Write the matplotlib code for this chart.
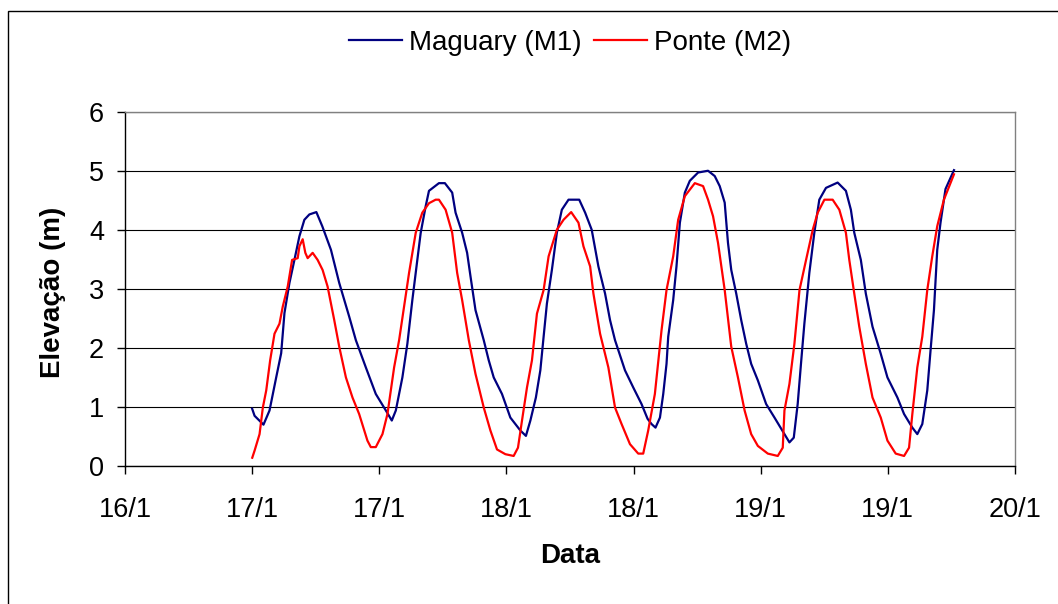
import matplotlib
matplotlib.use('Agg')
import matplotlib.pyplot as plt
import matplotlib.dates as mdates
import matplotlib.ticker as mticker
from matplotlib.patches import Rectangle
import pandas as pd

plt.rcParams['font.family'] = ['Liberation Sans', 'DejaVu Sans']

# hours after 17/1 00:00 and water level (m)
start = pd.Timestamp('2000-01-17 00:00')

m1_hours = [0.0, 0.23, 1.07, 1.64, 2.27, 2.74, 3.05, 3.52, 3.99, 4.46, 4.93, 5.40, 6.06, 6.62,
            7.44, 8.22, 9.16, 9.79, 10.73, 11.67, 12.62, 13.18, 13.56, 14.18, 14.65, 15.12,
            15.59, 15.91, 16.38, 16.69, 17.63, 18.19, 18.88, 19.20, 19.82, 20.29, 20.61, 21.08,
            21.86, 22.33, 22.80, 23.58, 24.37, 25.32, 25.84, 26.26, 26.78, 27.20, 27.51, 27.82,
            28.29, 28.76, 29.23, 29.86, 30.87, 31.43, 32.05, 32.68, 33.31, 33.78, 34.25, 35.19,
            35.97, 36.75, 37.32, 37.70, 38.07, 38.49, 38.80, 39.11, 39.27, 39.74, 40.05, 40.37,
            40.84, 41.31, 42.09, 43.03, 43.66, 44.13, 44.60, 44.91, 45.22, 45.69, 46.16, 46.63,
            47.10, 47.73, 48.51, 49.30, 50.24, 50.71, 51.12, 51.49, 51.80, 52.12, 52.59, 53.06,
            53.53, 54.16, 55.26, 56.04, 56.51, 56.83, 57.45, 57.92, 58.55, 59.33, 59.96, 60.90,
            61.53, 62.31, 62.78, 63.25, 63.72, 64.03, 64.35, 64.66, 64.97, 65.44, 66.24]
m1_level = [0.97, 0.85, 0.70, 0.94, 1.50, 1.91, 2.59, 3.10, 3.49, 3.89, 4.17, 4.26, 4.30, 4.06,
            3.66, 3.10, 2.53, 2.13, 1.67, 1.22, 0.94, 0.77, 0.94, 1.50, 2.07, 2.81,
            3.49, 3.95, 4.40, 4.66, 4.79, 4.79, 4.63, 4.29, 3.95, 3.61, 3.21, 2.64,
            2.13, 1.79, 1.50, 1.22, 0.82, 0.60, 0.51, 0.77, 1.16, 1.62, 2.19, 2.75,
            3.32, 3.95, 4.34, 4.51, 4.51, 4.29, 4.00, 3.38, 2.92, 2.47, 2.13, 1.62,
            1.33, 1.05, 0.80, 0.71, 0.65, 0.82, 1.22, 1.73, 2.19, 2.81, 3.38, 4.12,
            4.63, 4.83, 4.97, 5.00, 4.91, 4.74, 4.46, 3.78, 3.32, 2.92, 2.47, 2.07,
            1.73, 1.45, 1.05, 0.82, 0.54, 0.40, 0.48, 1.05, 1.73, 2.41, 3.27, 3.95,
            4.51, 4.71, 4.80, 4.66, 4.34, 3.95, 3.49, 2.92, 2.36, 1.90, 1.50, 1.16,
            0.88, 0.65, 0.54, 0.71, 1.28, 1.96, 2.64, 3.66, 4.12, 4.69, 5.01]

m2_hours = [0.01, 0.23, 0.70, 1.01, 1.33, 1.70, 2.11, 2.58, 2.89, 3.36, 3.77, 4.30, 4.46, 4.77,
            5.02, 5.24, 5.71, 6.18, 6.65, 7.12, 7.75, 8.22, 8.85, 9.47, 10.10, 10.88, 11.20,
            11.67, 12.30, 12.77, 13.40, 13.87, 14.34, 14.81, 15.44, 16.06, 16.69, 17.32, 17.63,
            18.26, 18.88, 19.35, 19.82, 20.45, 21.08, 21.86, 22.49, 23.11, 23.90, 24.68, 25.09,
            25.47, 25.94, 26.41, 26.88, 27.51, 27.98, 28.76, 29.39, 30.11, 30.80, 31.27, 31.90,
            32.21, 32.84, 33.62, 34.25, 34.87, 35.66, 36.44, 36.91, 37.38, 38.01, 38.64, 39.11,
            39.74, 40.21, 40.84, 41.78, 42.56, 43.03, 43.50, 43.97, 44.60, 45.22, 45.85, 46.48,
            47.10, 47.73, 48.67, 49.61, 50.08, 50.24, 50.71, 51.18, 51.66, 52.28, 52.91, 53.38,
            54.01, 54.79, 55.42, 56.04, 56.36, 56.83, 57.30, 57.92, 58.55, 59.33, 59.96, 60.74,
            61.53, 62.00, 62.31, 62.78, 63.25, 63.72, 64.19, 64.66, 65.29, 66.24]
m2_level = [0.14, 0.26, 0.54, 0.99, 1.28, 1.79, 2.24, 2.41, 2.70, 3.04, 3.49, 3.52, 3.72, 3.84,
            3.61, 3.52, 3.61, 3.49, 3.32, 3.04, 2.47, 2.02, 1.50, 1.16, 0.88, 0.43, 0.32,
            0.32, 0.54, 0.88, 1.67, 2.13, 2.70, 3.27, 3.95, 4.29, 4.45, 4.51, 4.51,
            4.34, 3.95, 3.27, 2.81, 2.13, 1.56, 0.99, 0.60, 0.28, 0.20, 0.17, 0.31,
            0.77, 1.33, 1.79, 2.58, 2.98, 3.55, 4.00, 4.17, 4.30, 4.12, 3.72, 3.38,
            2.92, 2.24, 1.67, 0.99, 0.71, 0.37, 0.21, 0.21, 0.60, 1.22, 2.30, 2.98,
            3.55, 4.17, 4.57, 4.79, 4.74, 4.51, 4.23, 3.78, 2.98, 2.02, 1.50, 0.94,
            0.54, 0.34, 0.21, 0.17, 0.31, 0.94, 1.39, 2.07, 2.98, 3.49, 4.00, 4.29,
            4.51, 4.51, 4.34, 3.95, 3.49, 2.92, 2.36, 1.73, 1.16, 0.82, 0.43, 0.21,
            0.17, 0.31, 0.88, 1.67, 2.19, 2.98, 3.55, 4.06, 4.51, 4.94]

series_labels = ['Maguary (M1)', 'Ponte (M2)']
series_colors = ['#000080', '#ff0000']

m1_time = start + pd.to_timedelta(m1_hours, unit='h')
m2_time = start + pd.to_timedelta(m2_hours, unit='h')

fig = plt.figure(figsize=(10.58, 6.04), dpi=100)
ax = fig.add_axes([125 / 1058, 138 / 604, 890 / 1058, 354.3 / 604])

# chart area border (only top and left are visible in the original)
fig.add_artist(Rectangle((8 / 1058, -0.2), 1.2, 1.2 + (604 - 10.7) / 604 - 1.0,
                         transform=fig.transFigure, fill=False, edgecolor='black',
                         linewidth=1.0, clip_on=False))

ax.plot(m1_time, m1_level, color=series_colors[0], linewidth=1.6, label=series_labels[0], zorder=3)
ax.plot(m2_time, m2_level, color=series_colors[1], linewidth=1.6, label=series_labels[1], zorder=4)

ax.set_xlim(pd.Timestamp('2000-01-16 12:00'), pd.Timestamp('2000-01-20 00:00'))
ax.set_ylim(0, 6)
ax.xaxis.set_major_locator(mdates.HourLocator(byhour=[0, 12]))
ax.xaxis.set_major_formatter(mticker.FuncFormatter(
    lambda x, _: '{}/{}'.format(mdates.num2date(x).day, mdates.num2date(x).month)))
ax.yaxis.set_major_locator(mticker.MultipleLocator(1))

ax.grid(axis='y', color='black', linewidth=0.8, zorder=1)
ax.set_axisbelow(True)
for side in ['top', 'right']:
    ax.spines[side].set_color('#808080')
    ax.spines[side].set_linewidth(1.0)
for side in ['left', 'bottom']:
    ax.spines[side].set_color('black')
    ax.spines[side].set_linewidth(1.0)

ax.tick_params(axis='both', direction='out', length=6, width=1.0, labelsize=19.5)
ax.tick_params(axis='y', pad=9)
ax.tick_params(axis='x', pad=16)

ax.set_xlabel('Data', fontsize=20, fontweight='bold', va='center')
ax.set_ylabel('Elevação (m)', fontsize=20, fontweight='bold', va='center')
ax.xaxis.set_label_coords(0.5, (466 - 556) / 354.3)
ax.yaxis.set_label_coords((53 - 125) / 890, (466 - 292) / 354.3)

ax.legend(loc='center', bbox_to_anchor=(0.5, (466 - 43) / 354.3), ncol=2, frameon=False,
          fontsize=20, handlelength=1.9, handletextpad=0.25, columnspacing=0.45)

plt.savefig('out.png', dpi=100)
